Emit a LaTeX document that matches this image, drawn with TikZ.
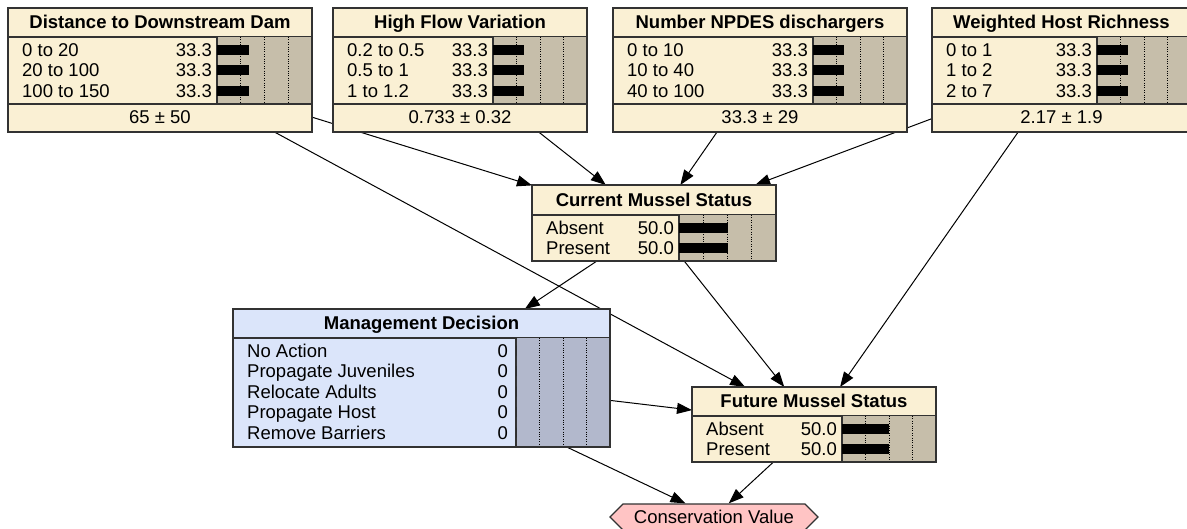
\documentclass[tikz,border=0pt]{standalone}
\usepackage{fontspec}
\setmainfont{Liberation Sans}
\usetikzlibrary{arrows.meta,backgrounds,shapes.symbols}

\definecolor{nodefill}{RGB}{250,240,212}
\definecolor{barback}{RGB}{198,190,170}
\definecolor{decfill}{RGB}{219,229,250}
\definecolor{decbar}{RGB}{178,184,204}
\definecolor{utilfill}{RGB}{255,196,196}
\definecolor{frame}{RGB}{50,50,50}

\tikzset{
  box/.style={inner sep=0pt, outer sep=0pt},
  rule/.style={draw=frame, line width=1.3pt},
  gridline/.style={draw=black, line width=0.8pt, dash pattern=on 1pt off 1.4pt},
  titletext/.style={font=\fontsize{18.5}{20}\selectfont\bfseries, inner sep=0pt, anchor=base},
  rowtext/.style={font=\fontsize{18.5}{20}\selectfont, inner sep=0pt},
  link/.style={draw=black, line width=1pt, -{Triangle[length=15pt,width=11pt]}},
}

% body of a node: #1 name, #2 left, #3 top, #4 right, #5 bottom, #6 fill, #7 title, #8 title rule
\newcommand\bnframe[8]{%
  \node[box, fill=#6, minimum width={(#4-#2)*1pt}, minimum height={(#5-#3)*1pt}]
    (#1) at ({(#2+#4)/2},{(#3+#5)/2}) {};
  \node[titletext] (#1-t) at ({(#2+#4)/2},#8-8) {#7};
  \draw[rule] (#2,#8) -- (#4,#8);
}
% belief bars: #1 name, #2 left, #3 top of states, #4 bar left, #5 right,
% #6 bottom of states, #7 bar colour, #8 value gap, #9 label/value/percent list
\newcommand\bnstates[9]{%
  \fill[#7] (#4,#3) rectangle (#5,#6);
  \foreach \f in {0.25,0.5,0.75}
    \draw[gridline] ({#4+\f*(#5-#4)},#3) -- ({#4+\f*(#5-#4)},#6);
  \draw[rule] (#4,#3) -- (#4,#6);
  \foreach \lab/\val/\pct [count=\i from 0] in {#9} {%
    \pgfmathsetmacro\rowy{#3+12.75+20.5*\i}
    \node[rowtext, anchor=base west] (#1-s\i) at (#2+14,\rowy+6.5) {\lab};
    \node[rowtext, anchor=base east] (#1-v\i) at (#4-#8,\rowy+6.5) {\val};
    \fill[black] (#4,\rowy-5) rectangle ({#4+\pct*(#5-#4)/100},\rowy+5);
  }%
}
% mean row: #1 name, #2 left, #3 right, #4 rule height, #5 text
\newcommand\bnmean[5]{%
  \draw[rule] (#2,#4) -- (#3,#4);
  \node[rowtext, anchor=base] (#1-m) at ({(#2+#3)/2},#4+19.3) {#5};
}
\newcommand\bnborder[1]{\draw[rule] (#1.north west) rectangle (#1.south east);}

\begin{document}
\begin{tikzpicture}[x=1pt, y=-1pt]
\useasboundingbox (0,0) rectangle (1187,529);

% ---- input nodes ----
\bnframe{dist}{8}{8}{312}{132}{nodefill}{Distance to Downstream Dam}{37}
\bnstates{dist}{8}{37}{217}{312}{104}{barback}{5}{0 to 20/33.3/33.3, 20 to 100/33.3/33.3, 100 to 150/33.3/33.3}
\bnmean{dist}{8}{312}{104}{65 ± 50}
\bnborder{dist}

\bnframe{flow}{333}{8}{587}{132}{nodefill}{High Flow Variation}{37}
\bnstates{flow}{333}{37}{493}{587}{104}{barback}{5}{0.2 to 0.5/33.3/33.3, 0.5 to 1/33.3/33.3, 1 to 1.2/33.3/33.3}
\bnmean{flow}{333}{587}{104}{0.733 ± 0.32}
\bnborder{flow}

\bnframe{npdes}{613}{8}{907}{132}{nodefill}{Number NPDES dischargers}{37}
\bnstates{npdes}{613}{37}{813}{907}{104}{barback}{5}{0 to 10/33.3/33.3, 10 to 40/33.3/33.3, 40 to 100/33.3/33.3}
\bnmean{npdes}{613}{907}{104}{33.3 ± 29}
\bnborder{npdes}

\bnframe{host}{932}{8}{1191}{132}{nodefill}{Weighted Host Richness}{37}
\bnstates{host}{932}{37}{1097}{1191}{104}{barback}{5}{0 to 1/33.3/33.3, 1 to 2/33.3/33.3, 2 to 7/33.3/33.3}
\bnmean{host}{932}{1191}{104}{2.17 ± 1.9}
\bnborder{host}

% ---- mussel status nodes ----
\bnframe{cur}{532}{185}{776}{261}{nodefill}{Current Mussel Status}{215}
\bnstates{cur}{532}{215}{679}{776}{261}{barback}{5}{Absent/50.0/50, Present/50.0/50}
\bnborder{cur}

\bnframe{fut}{692}{387}{936}{462}{nodefill}{Future Mussel Status}{416}
\bnstates{fut}{692}{416}{842}{936}{462}{barback}{5}{Absent/50.0/50, Present/50.0/50}
\bnborder{fut}

% ---- decision node ----
\bnframe{mgmt}{233}{309}{610}{447}{decfill}{Management Decision}{338}
\bnstates{mgmt}{233}{338}{516}{610}{447}{decbar}{8}{No Action/0/0, Propagate Juveniles/0/0, Relocate Adults/0/0, Propagate Host/0/0, Remove Barriers/0/0}
\bnborder{mgmt}

% ---- utility node ----
\node[shape=signal, signal to=west and east, signal pointer angle=90,
      draw=frame, line width=1.3pt, fill=utilfill, inner sep=0pt,
      minimum width=208pt, minimum height=26pt, rowtext] (cons) at (714,517) {Conservation Value};

% ---- links ----
\begin{pgfonlayer}{background}
  \fill[white] (0,0) rectangle (1187,529);
  \draw[link] (dist.center)  -- (cur);
  \draw[link] (dist.center)  -- (fut);
  \draw[link] (flow.center)  -- (cur);
  \draw[link] (npdes.center) -- (cur);
  \draw[link] (host.center)  -- (cur);
  \draw[link] (host.center)  -- (fut);
  \draw[link] (cur.center)   -- (mgmt);
  \draw[link] (cur.center)   -- (fut);
  \draw[link] (mgmt.center)  -- (fut);
  \draw[link] (mgmt.center)  -- (cons);
  \draw[link] (fut.center)   -- (cons);
\end{pgfonlayer}
\end{tikzpicture}
\end{document}
